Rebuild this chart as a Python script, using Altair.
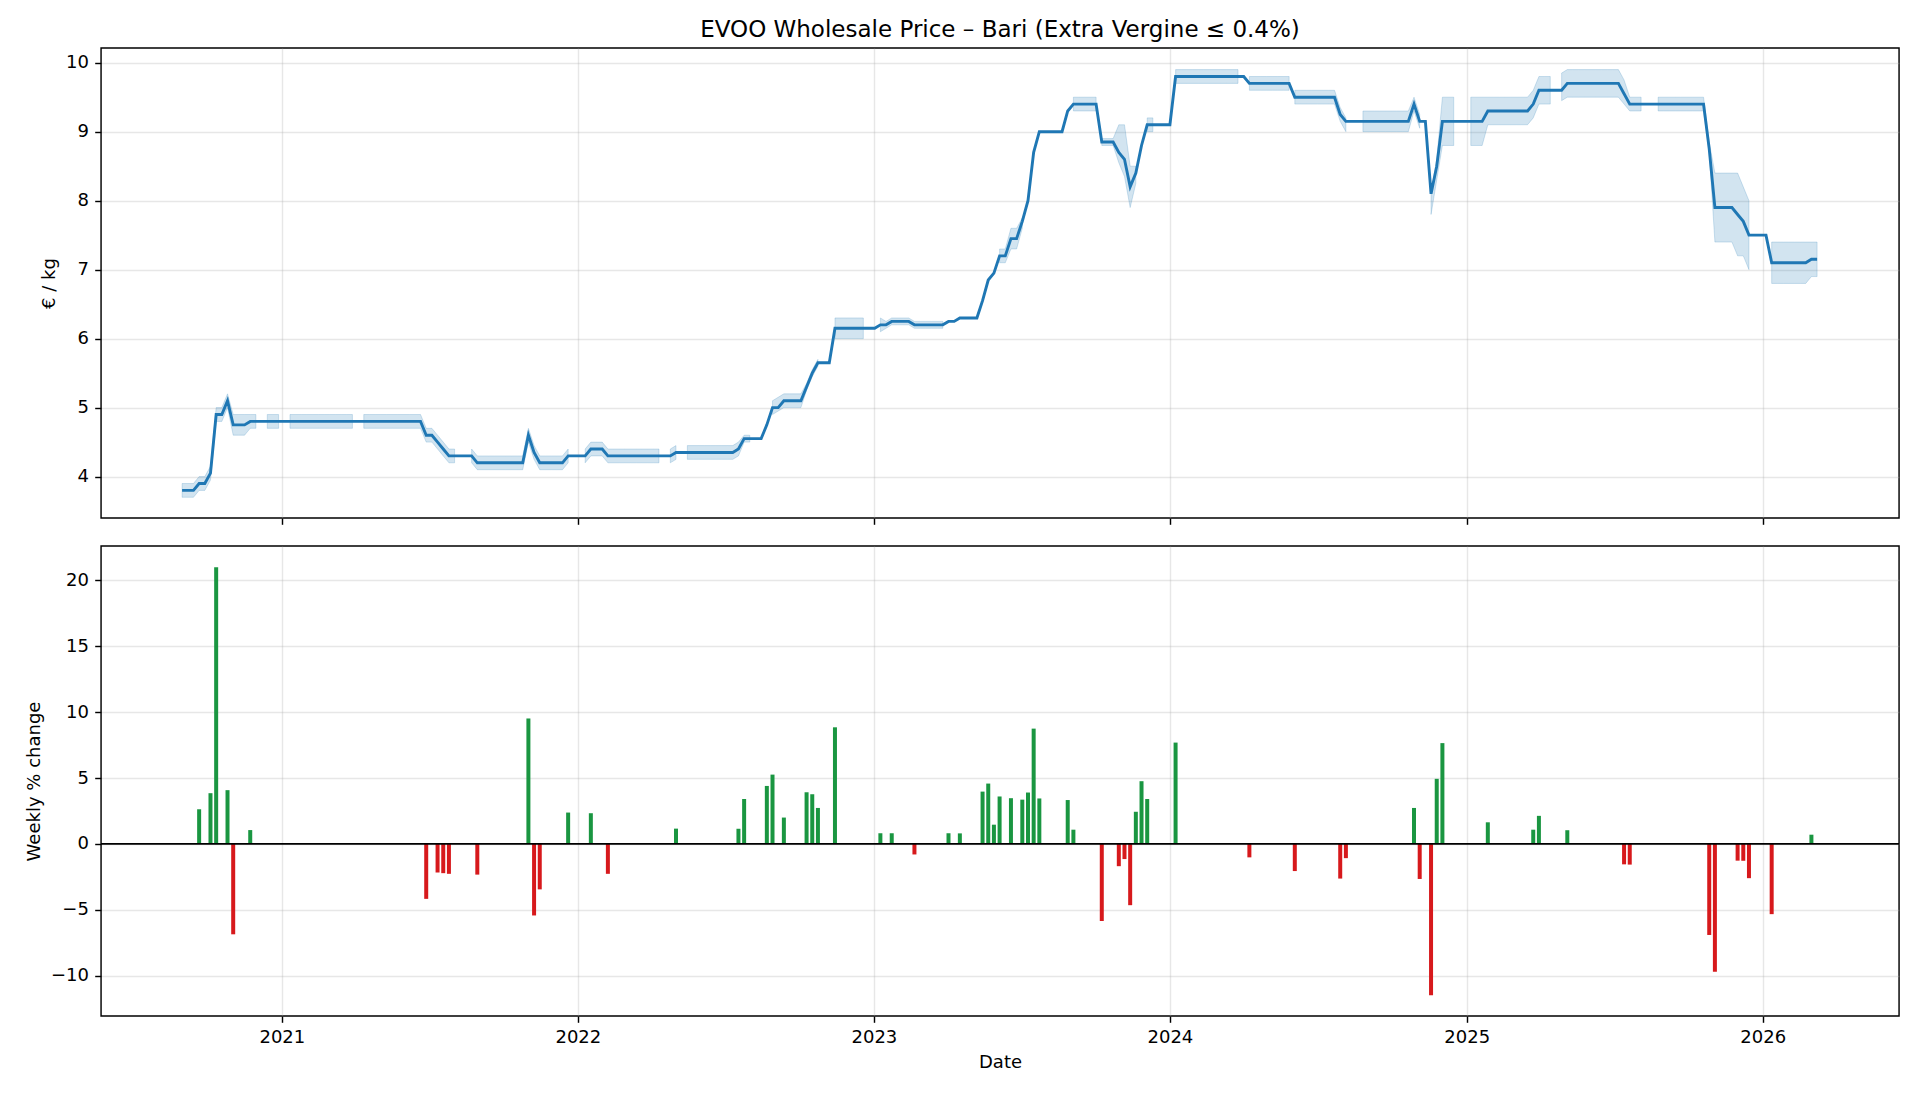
import altair as alt
import pandas as pd

TITLE = "EVOO Wholesale Price – Bari (Extra Vergine ≤ 0.4%)"
START = "2020-08-31"
YEARS = [2021, 2022, 2023, 2024, 2025, 2026]

# weekly price, EUR/kg (one value per week from START)
PRICE = [
    3.8, 3.8, 3.8, 3.9, 3.9, 4.05, 4.9, 4.9, 5.1, 4.75, 4.75, 4.75,
    4.8, 4.8, 4.8, 4.8, 4.8, 4.8, 4.8, 4.8, 4.8, 4.8, 4.8, 4.8, 4.8, 4.8, 4.8, 4.8,
    4.8, 4.8, 4.8, 4.8, 4.8, 4.8, 4.8, 4.8, 4.8, 4.8, 4.8, 4.8, 4.8, 4.8, 4.8,
    4.6, 4.6, 4.5, 4.4, 4.3, 4.3, 4.3, 4.3, 4.3,
    4.2, 4.2, 4.2, 4.2, 4.2, 4.2, 4.2, 4.2, 4.2, 4.6, 4.35, 4.2, 4.2, 4.2, 4.2, 4.2,
    4.3, 4.3, 4.3, 4.3, 4.4, 4.4, 4.4,
    4.3, 4.3, 4.3, 4.3, 4.3, 4.3, 4.3, 4.3, 4.3, 4.3, 4.3, 4.3,
    4.35, 4.35, 4.35, 4.35, 4.35, 4.35, 4.35, 4.35, 4.35, 4.35, 4.35,
    4.4, 4.55, 4.55, 4.55, 4.55, 4.75, 5.0, 5.0, 5.1, 5.1, 5.1, 5.1, 5.3, 5.5,
    5.65, 5.65, 5.65, 6.15, 6.15, 6.15, 6.15, 6.15, 6.15, 6.15, 6.15,
    6.2, 6.2, 6.25, 6.25, 6.25, 6.25, 6.2, 6.2, 6.2, 6.2, 6.2, 6.2, 6.25, 6.25,
    6.3, 6.3, 6.3, 6.3, 6.55, 6.85, 6.95, 7.2, 7.2, 7.45, 7.45, 7.7, 8.0, 8.7,
    9.0, 9.0, 9.0, 9.0, 9.0, 9.3, 9.4, 9.4, 9.4, 9.4, 9.4,
    8.85, 8.85, 8.85, 8.7, 8.6, 8.2, 8.4, 8.8, 9.1, 9.1, 9.1, 9.1, 9.1,
    9.8, 9.8, 9.8, 9.8, 9.8, 9.8, 9.8, 9.8, 9.8, 9.8, 9.8, 9.8, 9.8,
    9.7, 9.7, 9.7, 9.7, 9.7, 9.7, 9.7, 9.7,
    9.5, 9.5, 9.5, 9.5, 9.5, 9.5, 9.5, 9.5, 9.25,
    9.15, 9.15, 9.15, 9.15, 9.15, 9.15, 9.15, 9.15, 9.15, 9.15, 9.15, 9.15,
    9.4, 9.15, 9.15, 8.1, 8.5, 9.15, 9.15, 9.15, 9.15, 9.15, 9.15, 9.15, 9.15,
    9.3, 9.3, 9.3, 9.3, 9.3, 9.3, 9.3, 9.3, 9.4, 9.6, 9.6, 9.6, 9.6, 9.6,
    9.7, 9.7, 9.7, 9.7, 9.7, 9.7, 9.7, 9.7, 9.7, 9.7, 9.55,
    9.4, 9.4, 9.4, 9.4, 9.4, 9.4, 9.4, 9.4, 9.4, 9.4, 9.4, 9.4, 9.4, 9.4,
    8.75, 7.9, 7.9, 7.9, 7.9, 7.8, 7.7, 7.5, 7.5, 7.5, 7.5,
    7.1, 7.1, 7.1, 7.1, 7.1, 7.1, 7.1, 7.15, 7.15,
]

# min/max band: segments (first week index, lows, highs)
BAND_START = [0, 15, 19, 32, 51, 71, 86, 89, 104, 115, 123, 144,
              157, 162, 170, 175, 188, 196, 208, 220, 227, 243, 260, 280]
BAND_LO = [
    [3.7, 3.7, 3.7, 3.8, 3.8, 3.95, 4.8, 4.8, 5.0, 4.6, 4.6, 4.6, 4.7, 4.7],
    [4.7, 4.7, 4.7],
    [4.7, 4.7, 4.7, 4.7, 4.7, 4.7, 4.7, 4.7, 4.7, 4.7, 4.7, 4.7],
    [4.7, 4.7, 4.7, 4.7, 4.7, 4.7, 4.7, 4.7, 4.7, 4.7, 4.7, 4.5, 4.5, 4.4, 4.3, 4.2, 4.2],
    [4.2, 4.1, 4.1, 4.1, 4.1, 4.1, 4.1, 4.1, 4.1, 4.1, 4.5, 4.25, 4.1, 4.1, 4.1, 4.1, 4.1, 4.2],
    [4.2, 4.3, 4.3, 4.3, 4.2, 4.2, 4.2, 4.2, 4.2, 4.2, 4.2, 4.2, 4.2, 4.2],
    [4.2, 4.25],
    [4.25, 4.25, 4.25, 4.25, 4.25, 4.25, 4.25, 4.25, 4.25, 4.3, 4.5, 4.5],
    [4.9, 4.95, 5.0, 5.0, 5.0, 5.0, 5.25, 5.45, 5.6],
    [6.0, 6.0, 6.0, 6.0, 6.0, 6.0],
    [6.1, 6.15, 6.2, 6.2, 6.2, 6.2, 6.15, 6.15, 6.15, 6.15, 6.15, 6.15],
    [7.1, 7.1, 7.3, 7.3, 7.6],
    [9.3, 9.3, 9.3, 9.3, 9.3],
    [8.8, 8.8, 8.8, 8.55, 8.35, 7.9, 8.25],
    [9.0, 9.0],
    [9.7, 9.7, 9.7, 9.7, 9.7, 9.7, 9.7, 9.7, 9.7, 9.7, 9.7, 9.7],
    [9.6, 9.6, 9.6, 9.6, 9.6, 9.6, 9.6, 9.6],
    [9.4, 9.4, 9.4, 9.4, 9.4, 9.4, 9.4, 9.4, 9.15, 9.0],
    [9.0, 9.0, 9.0, 9.0, 9.0, 9.0, 9.0, 9.0, 9.0, 9.3, 9.05],
    [7.8, 8.3, 8.8, 8.8, 8.8],
    [8.8, 8.8, 8.8, 9.1, 9.1, 9.1, 9.1, 9.1, 9.1, 9.1, 9.1, 9.2, 9.4, 9.4, 9.4],
    [9.45, 9.5, 9.5, 9.5, 9.5, 9.5, 9.5, 9.5, 9.5, 9.5, 9.5, 9.4, 9.3, 9.3, 9.3],
    [9.3, 9.3, 9.3, 9.3, 9.3, 9.3, 9.3, 9.3, 9.3, 8.7, 7.4, 7.4, 7.4, 7.4, 7.2, 7.2, 7.0],
    [6.8, 6.8, 6.8, 6.8, 6.8, 6.8, 6.8, 6.9, 6.9],
]
BAND_HI = [
    [3.9, 3.9, 3.9, 4.0, 4.0, 4.15, 5.0, 5.0, 5.2, 4.9, 4.9, 4.9, 4.9, 4.9],
    [4.9, 4.9, 4.9],
    [4.9, 4.9, 4.9, 4.9, 4.9, 4.9, 4.9, 4.9, 4.9, 4.9, 4.9, 4.9],
    [4.9, 4.9, 4.9, 4.9, 4.9, 4.9, 4.9, 4.9, 4.9, 4.9, 4.9, 4.7, 4.7, 4.6, 4.5, 4.4, 4.4],
    [4.4, 4.3, 4.3, 4.3, 4.3, 4.3, 4.3, 4.3, 4.3, 4.3, 4.7, 4.45, 4.3, 4.3, 4.3, 4.3, 4.3, 4.4],
    [4.4, 4.5, 4.5, 4.5, 4.4, 4.4, 4.4, 4.4, 4.4, 4.4, 4.4, 4.4, 4.4, 4.4],
    [4.4, 4.45],
    [4.45, 4.45, 4.45, 4.45, 4.45, 4.45, 4.45, 4.45, 4.45, 4.5, 4.6, 4.6],
    [5.1, 5.15, 5.2, 5.2, 5.2, 5.2, 5.35, 5.55, 5.7],
    [6.3, 6.3, 6.3, 6.3, 6.3, 6.3],
    [6.3, 6.25, 6.3, 6.3, 6.3, 6.3, 6.25, 6.25, 6.25, 6.25, 6.25, 6.25],
    [7.3, 7.3, 7.6, 7.6, 7.75],
    [9.5, 9.5, 9.5, 9.5, 9.5],
    [8.9, 8.9, 8.9, 9.1, 9.1, 8.5, 8.5],
    [9.2, 9.2],
    [9.9, 9.9, 9.9, 9.9, 9.9, 9.9, 9.9, 9.9, 9.9, 9.9, 9.9, 9.9],
    [9.8, 9.8, 9.8, 9.8, 9.8, 9.8, 9.8, 9.8],
    [9.6, 9.6, 9.6, 9.6, 9.6, 9.6, 9.6, 9.6, 9.35, 9.2],
    [9.3, 9.3, 9.3, 9.3, 9.3, 9.3, 9.3, 9.3, 9.3, 9.5, 9.25],
    [8.1, 8.6, 9.5, 9.5, 9.5],
    [9.5, 9.5, 9.5, 9.5, 9.5, 9.5, 9.5, 9.5, 9.5, 9.5, 9.5, 9.6, 9.8, 9.8, 9.8],
    [9.85, 9.9, 9.9, 9.9, 9.9, 9.9, 9.9, 9.9, 9.9, 9.9, 9.9, 9.75, 9.5, 9.5, 9.5],
    [9.5, 9.5, 9.5, 9.5, 9.5, 9.5, 9.5, 9.5, 9.5, 8.85, 8.4, 8.4, 8.4, 8.4, 8.4, 8.2, 8.0],
    [7.4, 7.4, 7.4, 7.4, 7.4, 7.4, 7.4, 7.4, 7.4],
]

# weekly % change bars (week index, percent)
BAR_WK = [3, 5, 6, 8, 9, 12, 43, 45, 46, 47, 52, 61, 62, 63, 68, 72, 75, 87, 98, 99,
          103, 104, 106, 110, 111, 112, 115, 123, 125, 129, 135, 137, 141, 142, 143,
          144, 146, 148, 149, 150, 151, 156, 157, 162, 165, 166, 167, 168, 169, 170,
          175, 188, 196, 204, 205, 217, 218, 220, 221, 222, 230, 238, 239, 244, 254,
          255, 269, 270, 274, 275, 276, 280, 287]
BAR_PCT = [2.63, 3.85, 20.99, 4.08, -6.86, 1.05, -4.17, -2.17, -2.22, -2.27, -2.33,
           9.52, -5.43, -3.45, 2.38, 2.33, -2.27, 1.16, 1.15, 3.41,
           4.40, 5.26, 2.0, 3.92, 3.77, 2.73, 8.85, 0.81, 0.81, -0.80, 0.81, 0.80,
           3.97, 4.58, 1.46, 3.60, 3.47, 3.36, 3.90, 8.75, 3.45, 3.33, 1.08,
           -5.85, -1.69, -1.15, -4.65, 2.44, 4.76, 3.41, 7.69, -1.02, -2.06, -2.63,
           -1.08, 2.73, -2.66, -11.48, 4.94, 7.65, 1.64, 1.08, 2.13, 1.04, -1.55,
           -1.57, -6.91, -9.71, -1.27, -1.28, -2.60, -5.33, 0.70]

BLUE = "#1f77b4"
GREEN = "#1a9641"
RED = "#d7191c"
FONT = "DejaVu Sans"

dates = pd.date_range(START, periods=len(PRICE), freq="7D").strftime("%Y-%m-%d")
price_df = pd.DataFrame({"date": dates, "price": PRICE})

rows = []
for s, (st, lo, hi) in enumerate(zip(BAND_START, BAND_LO, BAND_HI)):
    for k, (l, h) in enumerate(zip(lo, hi)):
        rows.append({"date": dates[st + k], "lo": l, "hi": h, "seg": s})
band_df = pd.DataFrame(rows)

bar_df = pd.DataFrame({
    "date": [dates[w] for w in BAR_WK],
    "pct": BAR_PCT,
    "dir": ["up" if v > 0 else "down" for v in BAR_PCT],
})

xscale = alt.Scale(type="utc", padding=0, nice=False, domain=[
    alt.DateTime(year=2020, month=5, date=23, utc=True),
    alt.DateTime(year=2026, month=6, date=18, utc=True)])
year_vals = [alt.DateTime(year=y, month=1, date=1, utc=True) for y in YEARS]

ytop = alt.Scale(domain=[3.40, 10.213], nice=False, zero=False)
ybot = alt.Scale(domain=[-13.06, 22.61], nice=False, zero=False, padding=0)

x_top = alt.X("date:T", scale=xscale,
              axis=alt.Axis(values=year_vals, labels=False, title=None))
x_bot = alt.X("date:T", scale=xscale,
              axis=alt.Axis(values=year_vals, title="Date",
                            labelExpr="utcFormat(datum.value, '%Y')"))

band = alt.Chart(band_df).mark_area(
    color=BLUE, fillOpacity=0.2, stroke=BLUE, strokeOpacity=0.2, strokeWidth=1
).encode(
    x=x_top,
    y=alt.Y("lo:Q", scale=ytop,
            axis=alt.Axis(values=[4, 5, 6, 7, 8, 9, 10], format="d", title="€ / kg")),
    y2="hi:Q",
    detail="seg:N",
)
line = alt.Chart(price_df).mark_line(color=BLUE, strokeWidth=2.9).encode(
    x=x_top,
    y=alt.Y("price:Q", scale=ytop),
)
top = alt.layer(band, line).properties(
    width=1798, height=470,
    title=alt.TitleParams(text=TITLE, fontSize=23, font=FONT, fontWeight="normal",
                          color="black", anchor="middle", frame="group", offset=6),
)

bars = alt.Chart(bar_df).mark_bar(size=4).encode(
    x=x_bot,
    y=alt.Y("pct:Q", scale=ybot,
            axis=alt.Axis(values=[-10, -5, 0, 5, 10, 15, 20], format="d",
                          title="Weekly % change")),
    y2=alt.datum(0),
    color=alt.Color("dir:N", scale=alt.Scale(domain=["up", "down"], range=[GREEN, RED]),
                    legend=None),
)
zero = alt.Chart(pd.DataFrame({"z": [0]})).mark_rule(color="black", strokeWidth=1.8).encode(
    y=alt.Y("z:Q", scale=ybot)
)
bottom = alt.layer(bars, zero).properties(width=1798, height=470)

chart = alt.vconcat(top, bottom, spacing=19).properties(
    padding={"left": 16, "top": 10, "right": 5, "bottom": 5}
).configure(
    background="white"
).configure_view(
    stroke="black", strokeWidth=1.44
).configure_axis(
    labelFont=FONT, labelFontSize=18, labelColor="black", labelPadding=6.3,
    titleFont=FONT, titleFontSize=18, titleFontWeight="normal", titleColor="black",
    titlePadding=7.2, tickColor="black", tickSize=6.3, tickWidth=1.44,
    domain=False, grid=True, gridColor="#b0b0b0", gridOpacity=0.3, gridWidth=1.4,
)

chart.save("out.html", embed_options={"renderer": "svg", "actions": False})
